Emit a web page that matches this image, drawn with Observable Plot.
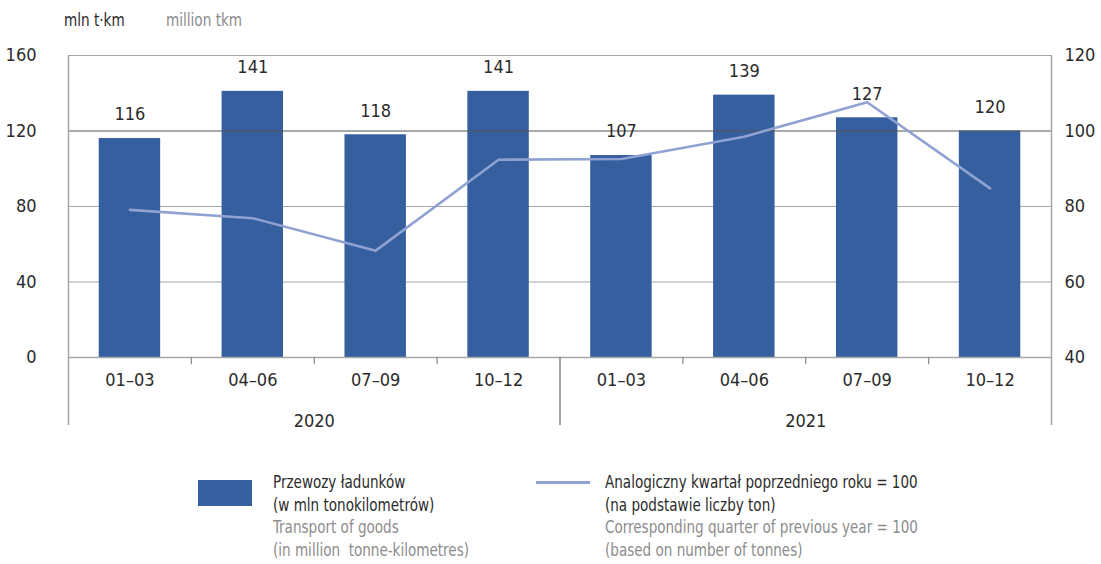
<!DOCTYPE html>
<html>
<head>
<meta charset="utf-8">
<script src="https://cdn.jsdelivr.net/npm/d3@7"></script>
<script src="https://cdn.jsdelivr.net/npm/@observablehq/plot@0.6"></script>
<style>
  body { margin: 0; background: #fff; }
  #wrap { position: relative; width: 1101px; height: 564px; font-family: "Liberation Sans Narrow", "DejaVu Sans Condensed", sans-serif; }
  #chart { position: absolute; left: 0; top: 0; }
  .hdr { position: absolute; top: 9px; font-size: 18px; line-height: 22px; transform: scaleX(0.84); transform-origin: 0 0; white-space: nowrap; }
  .legend { position: absolute; font-size: 17.5px; line-height: 22.7px; transform: scaleX(0.86); transform-origin: 0 0; white-space: nowrap; }
  .dark { color: #2b2b2b; }
  .gray { color: #8c8c8c; }
</style>
</head>
<body>
<div id="wrap">
  <div class="hdr dark" style="left:64px">mln t·km</div>
  <div class="hdr gray" style="left:166px">million tkm</div>
  <div id="chart"></div>
  <div style="position:absolute;left:198px;top:480px;width:54px;height:26px;background:#365f9f"></div>
  <div class="legend" style="left:273px;top:471px">
    <div class="dark">Przewozy ładunków</div>
    <div class="dark">(w mln tonokilometrów)</div>
    <div class="gray">Transport of goods</div>
    <div class="gray">(in million&nbsp; tonne-kilometres)</div>
  </div>
  <div style="position:absolute;left:536px;top:481px;width:54px;height:3px;background:#8fa2d2"></div>
  <div class="legend" style="left:605px;top:471px">
    <div class="dark">Analogiczny kwartał poprzedniego roku = 100</div>
    <div class="dark">(na podstawie liczby ton)</div>
    <div class="gray">Corresponding quarter of previous year = 100</div>
    <div class="gray">(based on number of tonnes)</div>
  </div>
</div>
<script>
const years = ["2020", "2021"];
const quarters = ["01–03", "04–06", "07–09", "10–12"];
const transport = [116, 141, 118, 141, 107, 139, 127, 120];
const indexPrevYear = [79.1, 76.9, 68.3, 92.4, 92.6, 98.5, 107.6, 84.8];
const leftTicks = [0, 40, 80, 120, 160];

const rows = transport.map((v, i) => ({
  i,
  year: years[Math.floor(i / 4)],
  quarter: quarters[i % 4],
  value: v,
  idx: indexPrevYear[i]
}));
const yearRows = years.map((y, k) => ({ year: y, mid: k * 4 + 2 }));
const quarterBounds = rows.map(d => d.i).filter(i => i % 4 !== 0);
// right axis: 40..120 mapped onto left 0..160
const toLeft = v => (v - 40) * 2;

const plot = Plot.plot({
  width: 1101,
  height: 440,
  marginLeft: 68,
  marginRight: 50,
  marginTop: 55,
  marginBottom: 83,
  x: { type: "linear", domain: [0, 8], axis: null },
  y: { domain: [0, 160], axis: null },
  style: { fontFamily: '"Liberation Sans Narrow", "DejaVu Sans Condensed", sans-serif', fontSize: "18px", color: "#2b2b2b", background: "transparent" },
  marks: [
    Plot.ruleY([40, 80], { stroke: "#a6a6a6", strokeWidth: 1.2 }),
    Plot.ruleY([160], { stroke: "#a6a6a6", strokeWidth: 1.2 }),
    Plot.rectY(rows, { x1: d => d.i + 0.25, x2: d => d.i + 0.75, y: "value", fill: "#365f9f" }),
    Plot.ruleY([120], { stroke: "#555", strokeWidth: 1.2 }),
    Plot.ruleY([0], { stroke: "#a6a6a6", strokeWidth: 1.5 }),
    Plot.ruleX([0, 8], { y1: -36, y2: 160, stroke: "#a6a6a6", strokeWidth: 1.5 }),
    Plot.ruleX([4], { y1: -36, y2: 0, stroke: "#666", strokeWidth: 1.2 }),
    Plot.ruleX(quarterBounds, { y1: 0, y2: -3.8, stroke: "#888", strokeWidth: 1.2 }),
    Plot.line(rows, { x: d => d.i + 0.5, y: d => toLeft(d.idx), stroke: "#8fa2d2", strokeWidth: 2.6 }),
    Plot.text(rows, { x: d => d.i + 0.5, y: "value", text: d => String(d.value), dy: -24, fontSize: 18, fill: "#2b2b2b" }),
    Plot.text(rows, { x: d => d.i + 0.5, y: 0, text: "quarter", dy: 23, fontSize: 18, fill: "#2b2b2b" }),
    Plot.text(yearRows, { x: "mid", y: 0, text: "year", dy: 64, fontSize: 18, fill: "#2b2b2b" }),
    Plot.axisY(leftTicks, { anchor: "left", label: null, tickSize: 0, tickPadding: 32, fontSize: 18 }),
    Plot.axisY(leftTicks, { anchor: "right", label: null, tickSize: 0, tickPadding: 13, fontSize: 18, tickFormat: d => String(d / 2 + 40) })
  ]
});
document.getElementById("chart").appendChild(plot);
</script>
</body>
</html>
